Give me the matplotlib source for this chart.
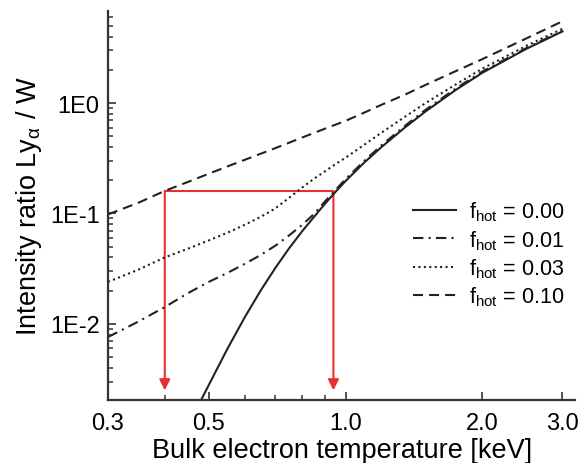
import numpy as np
import matplotlib
matplotlib.use("Agg")
import matplotlib.pyplot as plt
from matplotlib.ticker import FixedLocator, NullFormatter, LogLocator

plt.rcParams["font.family"] = ["Liberation Sans", "DejaVu Sans"]
plt.rcParams["mathtext.fontset"] = "custom"
plt.rcParams["mathtext.rm"] = "Liberation Sans"
plt.rcParams["mathtext.it"] = "Liberation Sans:italic"

# Bulk electron temperature [keV]
temps = [0.3, 0.35, 0.4, 0.45, 0.5, 0.55, 0.6, 0.65, 0.7, 0.75, 0.8, 0.85,
         0.9, 0.95, 1.0, 1.1, 1.2, 1.35, 1.5, 1.75, 2.0, 2.5, 3.0]

# Intensity ratio Ly-alpha / W for each hot-electron fraction
ratio_f000 = [np.nan, np.nan, np.nan, 0.0012, 0.0028, 0.0060, 0.0115, 0.020, 0.032, 0.048,
              0.068, 0.092, 0.122, 0.157, 0.197, 0.29, 0.40, 0.60, 0.84, 1.32, 1.88, 3.1, 4.45]
ratio_f001 = [0.0076, 0.0105, 0.0142, 0.019, 0.024, 0.029, 0.035, 0.042, 0.051, 0.063,
              0.078, 0.098, 0.128, 0.163, 0.205, 0.30, 0.415, 0.62, 0.87, 1.36, 1.93, 3.15, 4.5]
ratio_f003 = [0.024, 0.031, 0.040, 0.048, 0.057, 0.067, 0.079, 0.093, 0.111, 0.138,
              0.17, 0.205, 0.24, 0.28, 0.32, 0.42, 0.54, 0.75, 1.0, 1.48, 2.05, 3.3, 4.7]
ratio_f010 = [0.098, 0.125, 0.16, 0.193, 0.229, 0.267, 0.306, 0.347, 0.39, 0.436,
              0.485, 0.534, 0.585, 0.637, 0.69, 0.82, 0.965, 1.19, 1.46, 1.95, 2.5, 3.85, 5.5]

labels = ["0.00", "0.01", "0.03", "0.10"]

# red guide lines: measured ratio and the two temperatures it implies
guide_ratio = 0.16
guide_temps = [0.4, 0.94]
guide_bottom = 0.0025

fig = plt.figure(figsize=(5.79, 4.64), dpi=100)
ax = fig.add_axes([0.1865, 0.136, 0.807, 0.838])

red = "#e8302e"
ax.plot(guide_temps, [guide_ratio, guide_ratio], color=red, lw=1.5, zorder=1)
for t in guide_temps:
    ax.annotate("", xy=(t, guide_bottom), xytext=(t, guide_ratio),
                arrowprops=dict(arrowstyle="-|>", color=red, lw=1.5,
                                mutation_scale=16, shrinkA=0, shrinkB=0),
                zorder=1)

lc = "#222222"
styles = ["-", (0, (5, 2.5, 1, 2.5)), (0, (1, 1.6)), (0, (4.8, 2.9))]
series = [ratio_f000, ratio_f001, ratio_f003, ratio_f010]
for vals, ls, lab in zip(series, styles, labels):
    ax.plot(temps, vals, color=lc, lw=1.5, linestyle=ls,
            label=r"f$_\mathregular{hot}$ = " + lab, zorder=2)

ax.set_xscale("log")
ax.set_yscale("log")
ax.set_xlim(0.3, 3.2)
ax.set_ylim(2.05e-3, 6.8)

ax.xaxis.set_major_locator(FixedLocator([0.3, 0.5, 1.0, 2.0, 3.0]))
ax.set_xticklabels(["0.3", "0.5", "1.0", "2.0", "3.0"])
ax.xaxis.set_minor_locator(FixedLocator([0.4, 0.6, 0.7, 0.8, 0.9]))
ax.xaxis.set_minor_formatter(NullFormatter())

ax.yaxis.set_major_locator(FixedLocator([1e-2, 1e-1, 1e0]))
ax.set_yticklabels(["1E-2", "1E-1", "1E0"])
ax.yaxis.set_minor_locator(LogLocator(base=10, subs=np.arange(2, 10), numticks=20))
ax.yaxis.set_minor_formatter(NullFormatter())

for s in ["top", "right"]:
    ax.spines[s].set_visible(False)
for s in ["left", "bottom"]:
    ax.spines[s].set_linewidth(1.6)
    ax.spines[s].set_color("#333333")

ax.tick_params(which="major", direction="in", length=6, width=1.2, color="#333333",
               labelsize=17)
ax.tick_params(axis="x", which="major", pad=9)
ax.tick_params(axis="y", which="major", pad=6)
ax.tick_params(which="minor", direction="in", length=3.5, width=1.1, color="#333333")

ax.set_xlabel("Bulk electron temperature [keV]", fontsize=19.5, labelpad=2)
ax.set_ylabel(r"Intensity ratio Ly$_\mathregular{\alpha}$ / W", fontsize=19.5, labelpad=4)

ax.legend(loc="upper right", bbox_to_anchor=(1.018, 0.565), frameon=False, fontsize=15.5,
          handlelength=2.0, handletextpad=0.6, labelspacing=0.22)

fig.savefig("out.png", dpi=100)
